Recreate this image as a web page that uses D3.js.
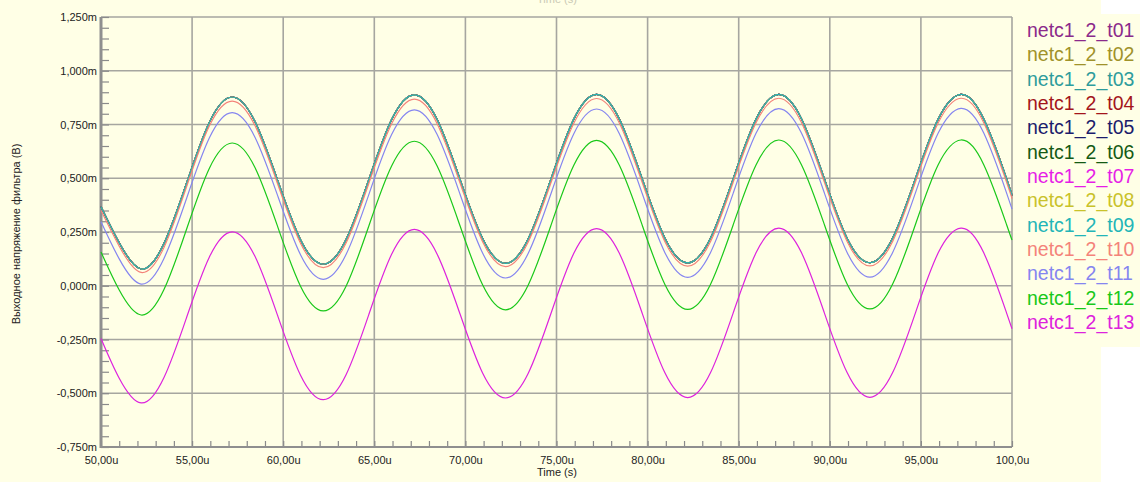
<!DOCTYPE html>
<html>
<head>
<meta charset="utf-8">
<script src="https://cdn.jsdelivr.net/npm/d3@7"></script>
<style>
  html, body { margin: 0; padding: 0; background: #fff; }
  svg { display: block; }
</style>
</head>
<body>
<div class="container"></div>
<script>
// ---- data -----------------------------------------------------------
var timeUs = [50, 51, 52.2, 53.45, 54.7, 55.95, 57.2, 58.45, 59.7, 60.95,
  62.2, 63.45, 64.7, 65.95, 67.2, 68.45, 69.7, 70.95, 72.2, 73.45,
  74.7, 75.95, 77.2, 78.45, 79.7, 80.95, 82.2, 83.45, 84.7, 85.95,
  87.2, 88.45, 89.7, 90.95, 92.2, 93.45, 94.7, 95.95, 97.2, 98.45, 99.7, 100]

// t01..t09 lie on top of each other in the picture
var clusterMv = [0.368, 0.200, 0.078, 0.195, 0.478, 0.761, 0.878, 0.764, 0.489, 0.214,
  0.100, 0.215, 0.494, 0.773, 0.888, 0.773, 0.496, 0.219, 0.104, 0.219,
  0.497, 0.775, 0.890, 0.775, 0.498, 0.221, 0.106, 0.221, 0.498, 0.775,
  0.890, 0.776, 0.498, 0.221, 0.107, 0.222, 0.498, 0.775, 0.890, 0.775, 0.498, 0.420]

var t10Mv = [0.350, 0.184, 0.062, 0.177, 0.461, 0.744, 0.859, 0.745, 0.472, 0.198,
  0.084, 0.199, 0.476, 0.753, 0.868, 0.754, 0.479, 0.204, 0.089, 0.204,
  0.480, 0.756, 0.871, 0.757, 0.481, 0.205, 0.091, 0.205, 0.482, 0.758,
  0.872, 0.758, 0.482, 0.206, 0.092, 0.206, 0.482, 0.758, 0.872, 0.758, 0.482, 0.405]

var t11Mv = [0.298, 0.125, 0.008, 0.126, 0.407, 0.688, 0.805, 0.691, 0.418, 0.144,
  0.030, 0.145, 0.424, 0.703, 0.818, 0.703, 0.427, 0.151, 0.036, 0.151,
  0.429, 0.707, 0.822, 0.707, 0.430, 0.154, 0.039, 0.154, 0.431, 0.709,
  0.824, 0.709, 0.432, 0.155, 0.040, 0.155, 0.432, 0.710, 0.825, 0.710, 0.432, 0.356]

var t12Mv = [0.157, -0.020, -0.136, -0.019, 0.264, 0.547, 0.664, 0.550, 0.274, -0.002,
  -0.117, -0.002, 0.278, 0.557, 0.672, 0.557, 0.280, 0.003, -0.112, 0.004,
  0.282, 0.560, 0.676, 0.560, 0.283, 0.006, -0.110, 0.006, 0.284, 0.562,
  0.678, 0.562, 0.285, 0.008, -0.108, 0.008, 0.285, 0.563, 0.678, 0.563, 0.285, 0.213]

var t13Mv = [-0.245, -0.430, -0.545, -0.428, -0.147, 0.134, 0.251, 0.137, -0.140, -0.416,
  -0.530, -0.414, -0.134, 0.146, 0.262, 0.147, -0.130, -0.407, -0.522, -0.407,
  -0.128, 0.151, 0.266, 0.151, -0.127, -0.405, -0.520, -0.405, -0.126, 0.153,
  0.268, 0.153, -0.126, -0.404, -0.519, -0.404, -0.126, 0.153, 0.268, 0.153, -0.126, -0.200]

var seriesNames = ['netc1_2_t01', 'netc1_2_t02', 'netc1_2_t03', 'netc1_2_t04', 'netc1_2_t05',
  'netc1_2_t06', 'netc1_2_t07', 'netc1_2_t08', 'netc1_2_t09', 'netc1_2_t10',
  'netc1_2_t11', 'netc1_2_t12', 'netc1_2_t13']
var seriesValues = [clusterMv, clusterMv, clusterMv, clusterMv, clusterMv,
  clusterMv, clusterMv, clusterMv, clusterMv, t10Mv, t11Mv, t12Mv, t13Mv]
var seriesColors = ['#8b2a8b', '#a0922a', '#2e9c9c', '#a3151b', '#1c1c6c',
  '#145a14', '#e61ee6', '#c9c22a', '#22b5b8', '#f4837a',
  '#8585f0', '#19c819', '#dd22dd']

var yTicks = [-0.75, -0.5, -0.25, 0, 0.25, 0.5, 0.75, 1.0, 1.25]
var yTickLabels = ['-0,750m', '-0,500m', '-0,250m', '0,000m', '0,250m', '0,500m', '0,750m', '1,000m', '1,250m']
var xTicks = [50, 55, 60, 65, 70, 75, 80, 85, 90, 95, 100]
var xTickLabels = ['50,00u', '55,00u', '60,00u', '65,00u', '70,00u', '75,00u', '80,00u', '85,00u', '90,00u', '95,00u', '100,0u']

// ---- layout ---------------------------------------------------------
var w = 1140, h = 482
var plotL = 101, plotR = 1012, plotT = 17, plotB = 447
var font = '"Liberation Sans", Arial, sans-serif'

var svg = d3.select('.container')
  .append('svg')
  .attr('width', w)
  .attr('height', h)

svg.append('rect').attr('width', w).attr('height', h).style('fill', '#fff')
svg.append('rect').attr('width', 1101).attr('height', h).style('fill', '#ffffe6')
svg.append('rect').attr('x', 1100).attr('y', 14).attr('width', 40).attr('height', 333).style('fill', '#ffffe6')

var x = d3.scaleLinear().domain([50, 100]).range([plotL, plotR])
var y = d3.scaleLinear().domain([-0.75, 1.25]).range([plotB, plotT])

// grid
var grid = svg.append('g')
grid.selectAll('.gy')
  .data(yTicks)
  .enter()
  .append('line')
  .attr('x1', plotL).attr('x2', plotR)
  .attr('y1', d => y(d)).attr('y2', d => y(d))
  .style('stroke', '#a6a6a0')
  .style('stroke-width', 1.6)
grid.selectAll('.gx')
  .data(xTicks)
  .enter()
  .append('line')
  .attr('x1', d => x(d)).attr('x2', d => x(d))
  .attr('y1', plotT).attr('y2', plotB)
  .style('stroke', '#a6a6a0')
  .style('stroke-width', 1.6)

// minor ticks
var yMinor = d3.range(-0.75, 1.2501, 0.05)
var xMinor = d3.range(50, 100.01, 1)
svg.append('g')
  .attr('transform', 'translate(' + plotL + ',0)')
  .call(d3.axisRight(y).tickValues(yMinor).tickSize(8).tickFormat(''))
  .call(g => g.select('.domain').remove())
  .call(g => g.selectAll('line').style('stroke', '#8a8a8a').style('stroke-width', 1.2))
svg.append('g')
  .attr('transform', 'translate(0,' + plotB + ')')
  .call(d3.axisTop(x).tickValues(xMinor).tickSize(6).tickFormat(''))
  .call(g => g.select('.domain').remove())
  .call(g => g.selectAll('line').style('stroke', '#8a8a8a').style('stroke-width', 1.2))

// axis lines
svg.append('line')
  .attr('x1', plotL).attr('x2', plotL).attr('y1', plotT).attr('y2', plotB + 1)
  .style('stroke', '#8f8f8f').style('stroke-width', 3)
svg.append('line')
  .attr('x1', plotL).attr('x2', plotR).attr('y1', plotB).attr('y2', plotB)
  .style('stroke', '#8f8f8f').style('stroke-width', 2)

// tick labels
svg.append('g')
  .attr('transform', 'translate(' + (plotL - 3) + ',0)')
  .call(d3.axisLeft(y).tickValues(yTicks).tickSize(0).tickPadding(1)
    .tickFormat((d, i) => yTickLabels[i]))
  .call(g => g.select('.domain').remove())
  .call(g => g.selectAll('text').style('font-family', font).style('font-size', '11px').style('fill', '#222'))
svg.append('g')
  .attr('transform', 'translate(0,' + (plotB + 6) + ')')
  .call(d3.axisBottom(x).tickValues(xTicks).tickSize(0).tickPadding(3)
    .tickFormat((d, i) => xTickLabels[i]))
  .call(g => g.select('.domain').remove())
  .call(g => g.selectAll('text').style('font-family', font).style('font-size', '11px').style('fill', '#222'))

// axis titles
svg.append('text')
  .attr('x', 557).attr('y', 476)
  .attr('text-anchor', 'middle')
  .style('font-family', font).style('font-size', '11px').style('fill', '#222')
  .text('Time (s)')
svg.append('text')
  .attr('x', 557).attr('y', 3)
  .attr('text-anchor', 'middle')
  .style('font-family', font).style('font-size', '11px').style('fill', '#c9c9b4')
  .text('Time (s)')
svg.append('text')
  .attr('transform', 'translate(20,234) rotate(-90)')
  .attr('text-anchor', 'middle')
  .style('font-family', font).style('font-size', '11px').style('fill', '#222')
  .text('Выходное напряжение фильтра (В)')

// curves
var line = d3.line()
  .x((d, i) => x(timeUs[i]))
  .y(d => y(d))
  .curve(d3.curveNatural)

svg.append('g')
  .selectAll('path')
  .data(seriesValues)
  .enter()
  .append('path')
  .attr('d', d => line(d))
  .style('fill', 'none')
  .style('stroke', (d, i) => seriesColors[i])
  .style('stroke-width', 1.2)

// legend
svg.append('g')
  .selectAll('text')
  .data(seriesNames)
  .enter()
  .append('text')
  .attr('x', 1027)
  .attr('y', (d, i) => 37 + i * 24.33)
  .style('font-family', font)
  .style('font-size', '19.5px')
  .style('fill', (d, i) => seriesColors[i])
  .text(d => d)
</script>
</body>
</html>
